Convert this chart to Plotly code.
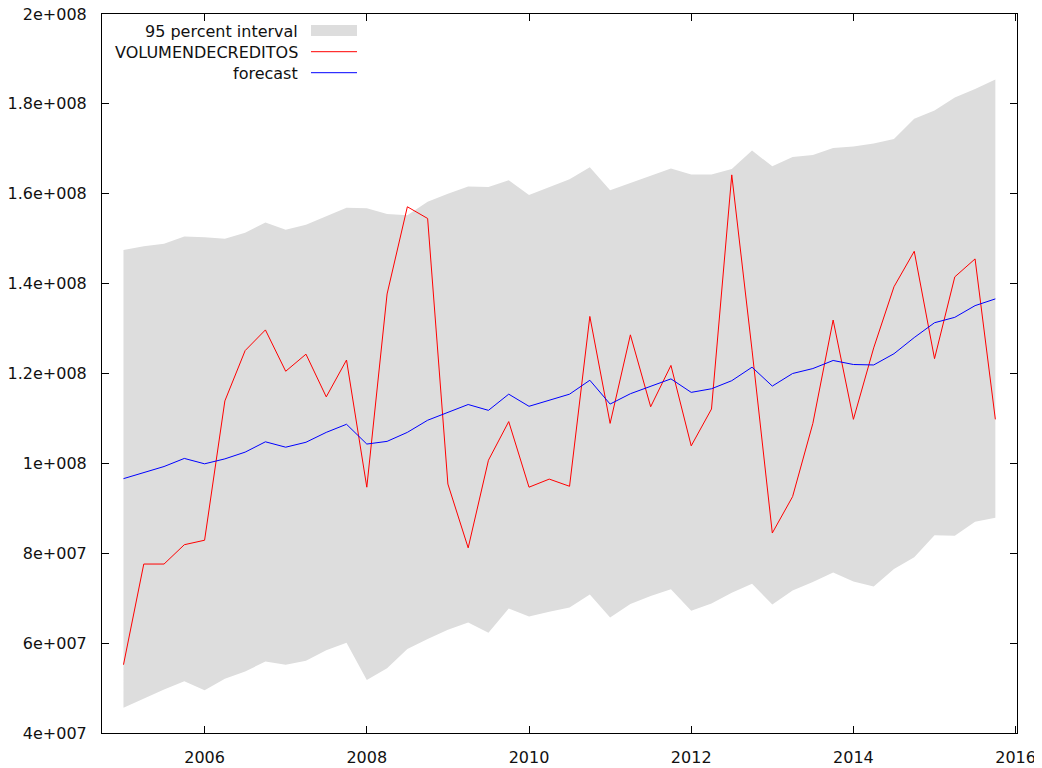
import plotly.graph_objects as go

# ---- data (values in units of 1e6) ----
periods = [f"{y}:{q}" for y in range(2005, 2016) for q in range(1, 5)]

actual = [55.2, 77.6, 77.6, 81.9, 82.9, 113.9, 125.1, 129.7, 120.5, 124.3,
          114.8, 123.0, 94.7, 137.7, 157.1, 154.5, 95.4, 81.2, 100.7, 109.3,
          94.7, 96.5, 94.9, 132.7, 108.9, 128.6, 112.6, 121.8, 103.9, 112.1,
          164.2, 125.2, 84.5, 92.6, 108.9, 131.9, 109.8, 125.7, 139.3, 147.2,
          123.3, 141.5, 145.5, 109.8]

forecast = [96.6, 97.9, 99.3, 101.1, 99.9, 101.0, 102.5, 104.8, 103.6, 104.7,
            106.9, 108.7, 104.3, 104.9, 106.9, 109.6, 111.3, 113.1, 111.8, 115.4,
            112.7, 114.0, 115.4, 118.5, 113.2, 115.5, 117.2, 118.8, 115.8, 116.6,
            118.4, 121.4, 117.2, 120.0, 121.1, 122.9, 122.0, 121.9, 124.4, 128.0,
            131.3, 132.5, 135.1, 136.6]

upper = [147.5, 148.3, 148.9, 150.5, 150.3, 150.0, 151.3, 153.6, 152.0, 153.1,
         155.0, 156.9, 156.8, 155.5, 155.2, 158.2, 160.0, 161.6, 161.5, 163.0,
         159.7, 161.4, 163.2, 165.9, 160.8, 162.4, 164.0, 165.6, 164.3, 164.3,
         165.5, 169.6, 166.1, 168.2, 168.6, 170.2, 170.5, 171.2, 172.2, 176.7,
         178.5, 181.4, 183.3, 185.4]

lower = [45.6, 47.7, 49.7, 51.5, 49.5, 52.1, 53.7, 55.9, 55.2, 56.1,
         58.4, 60.1, 51.8, 54.4, 58.7, 60.9, 63.0, 64.6, 62.3, 67.7,
         65.9, 67.0, 67.9, 70.8, 65.7, 68.7, 70.5, 72.0, 67.2, 68.8,
         71.2, 73.2, 68.6, 71.7, 73.6, 75.7, 73.7, 72.6, 76.5, 79.1,
         84.0, 83.9, 87.0, 87.9]

y_tickvals = [40e6, 60e6, 80e6, 100e6, 120e6, 140e6, 160e6, 180e6, 200e6]
y_ticktext = ["4e+007", "6e+007", "8e+007", "1e+008", "1.2e+008",
              "1.4e+008", "1.6e+008", "1.8e+008", "2e+008"]
x_tickvals = [2006, 2008, 2010, 2012, 2014, 2016]
x_ticktext = ["2006", "2008", "2010", "2012", "2014", "2016"]

legend_labels = ["95 percent interval", "VOLUMENDECREDITOS", "forecast"]

# ---- derived ----
x = [int(p[:4]) + (int(p[5:]) - 1) / 4 for p in periods]
S = 1e6
act = [v * S for v in actual]
fc = [v * S for v in forecast]
up = [v * S for v in upper]
lo = [v * S for v in lower]

# The page body has an 8px margin, so the figure is drawn 8px right/down.
OFF = 8
W, H = 1042, 768
ML, MT, MR, MB = 94, 6, 33, 43
PW, PH = W - ML - MR, H - MT - MB

def px_x(page_x):
    return (page_x - OFF - ML) / PW

def px_y(page_y):
    return 1 - (page_y - OFF - MT) / PH

BAND = "#dddddd"
RED = "#ff0000"
BLUE = "#0000ff"
FONT = "DejaVu Sans"
FS = 16
TXT = "#111111"

fig = go.Figure()
fig.add_trace(go.Scatter(x=x, y=lo, mode="lines", line=dict(width=0, color=BAND),
                         hoverinfo="skip", showlegend=False))
fig.add_trace(go.Scatter(x=x, y=up, mode="lines", line=dict(width=0, color=BAND),
                         fill="tonexty", fillcolor=BAND, name=legend_labels[0],
                         showlegend=False))
fig.add_trace(go.Scatter(x=x, y=act, mode="lines", line=dict(width=1, color=RED),
                         name=legend_labels[1], showlegend=False))
fig.add_trace(go.Scatter(x=x, y=fc, mode="lines", line=dict(width=1, color=BLUE),
                         name=legend_labels[2], showlegend=False))

# manual gnuplot-style legend (page pixel positions)
rows_y = [31.7, 52.5, 73.3]
text_right = 300
sx0, sx1 = 311, 357
annotations = []
for lbl, ry in zip(legend_labels, rows_y):
    annotations.append(dict(x=px_x(text_right), y=px_y(ry), xref="paper", yref="paper",
                            text=lbl, showarrow=False, xanchor="right", yanchor="middle",
                            font=dict(family=FONT, size=FS, color=TXT)))
shapes = [
    dict(type="rect", xref="paper", yref="paper", x0=px_x(sx0), x1=px_x(sx1),
         y0=px_y(25), y1=px_y(36), fillcolor=BAND, line=dict(width=0), layer="above"),
    dict(type="line", xref="paper", yref="paper", x0=px_x(sx0), x1=px_x(sx1),
         y0=px_y(51.7), y1=px_y(51.7), line=dict(color=RED, width=1)),
    dict(type="line", xref="paper", yref="paper", x0=px_x(sx0), x1=px_x(sx1),
         y0=px_y(72.7), y1=px_y(72.7), line=dict(color=BLUE, width=1)),
]

axis_common = dict(showline=True, linecolor="black", linewidth=1, mirror="ticks",
                   ticks="inside", ticklen=7, tickcolor="black", tickwidth=1,
                   showgrid=False, zeroline=False, automargin=False,
                   ticklabeloverflow="allow",
                   tickfont=dict(family=FONT, size=FS, color=TXT))

fig.update_layout(
    width=W, height=H,
    margin=dict(l=ML, r=MR, t=MT, b=MB, pad=0),
    paper_bgcolor="white", plot_bgcolor="white",
    xaxis=dict(range=[2004.735, 2016.017], tickmode="array", tickvals=x_tickvals,
               ticktext=x_ticktext, ticklabelstandoff=10, **axis_common),
    yaxis=dict(range=[40e6, 200e6], tickmode="array", tickvals=y_tickvals,
               ticktext=y_ticktext, ticklabelstandoff=11, **axis_common),
    annotations=annotations,
    shapes=shapes,
    showlegend=False,
)

fig.write_html("out.html")
